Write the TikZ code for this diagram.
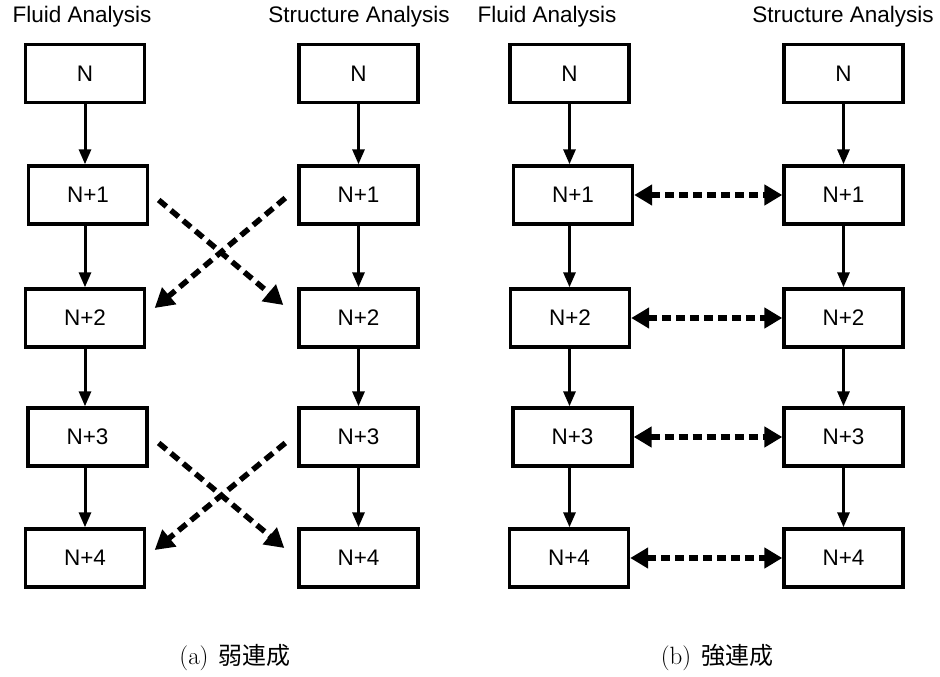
\documentclass[tikz,border=0pt]{standalone}
\usepackage{fontspec}
\setmainfont{Liberation Sans}
\newfontfamily\lmfont{Latin Modern Roman}
\newfontfamily\cjk{Noto Sans CJK JP}
\usetikzlibrary{arrows.meta}

\begin{document}
\begin{tikzpicture}[x=1pt, y=-1pt,
  stage/.style={draw, line width=3.4pt, minimum width=119pt, minimum height=58pt,
    inner sep=0pt, font=\fontsize{22.5}{27}\selectfont},
  coltitle/.style={inner sep=0pt, font=\fontsize{22.5}{27}\selectfont},
  caption/.style={inner sep=0pt},
  flow/.style={line width=3pt, -{Triangle[length=15pt, width=12pt]}},
  exchange/.style={line width=5.5pt, dash pattern=on 10pt off 6pt,
    -{Triangle[length=19pt, width=21pt]}},
  couple/.style={line width=5.5pt, dash pattern=on 9pt off 5pt,
    {Triangle[length=18pt, width=20pt]}-{Triangle[length=18pt, width=20pt]}}
]
\useasboundingbox (0,0) rectangle (940,677);

% ---- column titles ----
\node[coltitle] (tFa) at (82,17)  {Fluid Analysis};
\node[coltitle] (tSa) at (359,17) {Structure Analysis};
\node[coltitle] (tFb) at (547,17) {Fluid Analysis};
\node[coltitle] (tSb) at (843,17) {Structure Analysis};

% ---- time-step axes of the four columns ----
\coordinate (xfA) at (85,0);
\coordinate (xsA) at (358.5,0);
\coordinate (xfB) at (569.5,0);
\coordinate (xsB) at (843.5,0);

% ---- (a) weak coupling ----
\node[stage] (fA0) at (85,73.5)  {N};
\node[stage] (fA1) at (88,195)   {N+1};
\node[stage] (fA2) at (85,318)   {N+2};
\node[stage] (fA3) at (87.5,437) {N+3};
\node[stage] (fA4) at (85,558)   {N+4};

\node[stage] (sA0) at (358.5,73.5) {N};
\node[stage] (sA1) at (358.5,195)  {N+1};
\node[stage] (sA2) at (358.5,318)  {N+2};
\node[stage] (sA3) at (358.5,437)  {N+3};
\node[stage] (sA4) at (358.5,558)  {N+4};

\draw[exchange] ([shift={(9.5pt,-5pt)}]fA1.east) -- ([shift={(-14pt,13pt)}]sA2.west);
\draw[exchange] ([shift={(-12pt,-3pt)}]sA1.west) -- ([shift={(8.5pt,10pt)}]fA2.east);
\draw[exchange] ([shift={(10pt,-6pt)}]fA3.east) -- ([shift={(-13pt,10pt)}]sA4.west);
\draw[exchange] ([shift={(-12pt,-6pt)}]sA3.west) -- ([shift={(8.5pt,8pt)}]fA4.east);

% ---- (b) strong coupling ----
\node[stage] (fB0) at (569.5,73.5) {N};
\node[stage] (fB1) at (573,195)    {N+1};
\node[stage] (fB2) at (570,318)    {N+2};
\node[stage] (fB3) at (572.5,437)  {N+3};
\node[stage] (fB4) at (569,558)    {N+4};

\node[stage] (sB0) at (843.5,73.5) {N};
\node[stage] (sB1) at (843.5,195)  {N+1};
\node[stage] (sB2) at (843.5,318)  {N+2};
\node[stage] (sB3) at (843.5,437)  {N+3};
\node[stage] (sB4) at (843.5,558)  {N+4};

\foreach \i in {1,2,3,4}{
  \draw[couple] (fB\i.east) -- (sB\i.west |- fB\i.east);
}

% ---- time-step arrows down each column ----
\foreach \c in {fA,sA,fB,sB}{
  \foreach \i/\j in {0/1,1/2,2/3,3/4}{
    \draw[flow] (x\c |- \c\i.south) -- (x\c |- \c\j.north);
  }
}

% ---- captions ----
\node[caption] (capA) at (235,658)
  {{\lmfont\fontsize{25}{30}\selectfont (a)}\hspace{10pt}{\cjk\fontsize{24}{28}\selectfont 弱連成}};
\node[caption] (capB) at (717,658)
  {{\lmfont\fontsize{25}{30}\selectfont (b)}\hspace{10pt}{\cjk\fontsize{24}{28}\selectfont 強連成}};
\end{tikzpicture}
\end{document}
